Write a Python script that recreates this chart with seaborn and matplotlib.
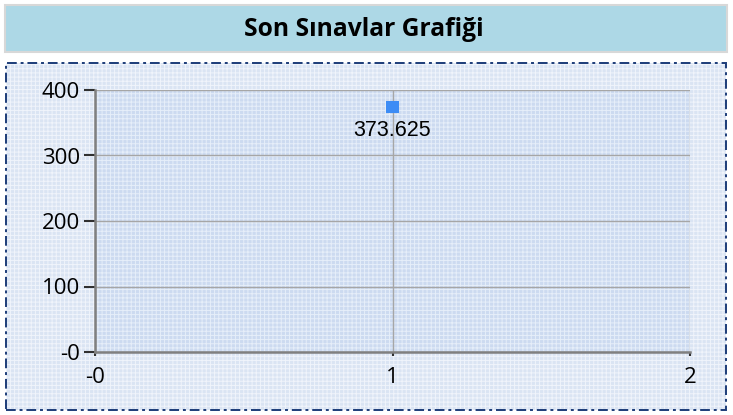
import matplotlib
matplotlib.use("Agg")
import matplotlib.pyplot as plt
from matplotlib.patches import Rectangle
import seaborn as sns
import pandas as pd

# chart data
title = "Son Sınavlar Grafiği"
x_values = [1]
y_values = [373.625]
point_labels = ["373.625"]
x_ticks = [0, 1, 2]
x_tick_labels = ["-0", "1", "2"]
y_ticks = [0, 100, 200, 300, 400]
y_tick_labels = ["-0", "100", "200", "300", "400"]

df = pd.DataFrame({"x": x_values, "y": y_values, "label": point_labels})

sns.set_theme(style="white")
plt.rcParams["font.family"] = ["Open Sans", "DejaVu Sans"]
plt.rcParams["hatch.linewidth"] = 0.7

W, H = 733, 415
fig = plt.figure(figsize=(W / 100, H / 100), dpi=100)
fig.patch.set_facecolor("white")

# title box
fig.patches.append(Rectangle((5 / W, 1 - 52 / H), 722 / W, 47 / H,
                             transform=fig.transFigure, facecolor="#add8e6",
                             edgecolor="#d8d8d8", linewidth=1.5, zorder=-2))
fig.text(364 / W, 1 - 29 / H, title, ha="center", va="center",
         fontsize=17.7, fontweight="bold", color="black")

# chart area background with fine grid pattern
fig.patches.append(Rectangle((6 / W, 1 - 410 / H), 720 / W, 347 / H,
                             transform=fig.transFigure, facecolor="#dae4f3",
                             edgecolor="#f0f4fb", hatch="++++", linewidth=0, zorder=-2))
fig.patches.append(Rectangle((6 / W, 1 - 410 / H), 720 / W, 347 / H,
                             transform=fig.transFigure, facecolor="none",
                             edgecolor="#1c3c78", linewidth=1.4,
                             linestyle=(0, (5, 2, 1.5, 2)), zorder=3))

ax = fig.add_axes([95 / W, 1 - 352 / H, 595 / W, 262 / H])
ax.set_facecolor("none")
ax.add_patch(Rectangle((0, 0), 1, 1, transform=ax.transAxes, facecolor="#ccdaf0",
                       edgecolor="#e6eef9", hatch="++++", linewidth=0, zorder=0))

ax.set_xlim(0, 2)
ax.set_ylim(0, 400)
ax.set_xticks(x_ticks)
ax.set_xticklabels(x_tick_labels)
ax.set_yticks(y_ticks)
ax.set_yticklabels(y_tick_labels)
ax.grid(True, color="#a6a6a6", linewidth=1.0, zorder=1)
ax.set_axisbelow(True)

for side in ["top", "right"]:
    ax.spines[side].set_visible(False)
for side in ["left", "bottom"]:
    ax.spines[side].set_color("#808080")
    ax.spines[side].set_linewidth(1.8)

ax.tick_params(axis="y", which="major", left=True, direction="out", length=8,
               width=1.5, color="#303030", labelsize=16, pad=3, labelcolor="black")
ax.tick_params(axis="x", which="major", bottom=True, direction="out", length=3,
               width=1.5, color="#303030", labelsize=16, pad=8, labelcolor="black")

sns.scatterplot(data=df, x="x", y="y", ax=ax, marker="s", s=80, color="#3d8cf5",
                edgecolor="none", zorder=5, legend=False, clip_on=False)
for _, row in df.iterrows():
    ax.annotate(row["label"], (row["x"], row["y"]), xytext=(0, -9),
                textcoords="offset points", ha="center", va="top",
                fontsize=15.5, color="black",
                family=["Liberation Sans", "DejaVu Sans"], zorder=6)

ax.set_xlabel("")
ax.set_ylabel("")

fig.savefig("out.png", dpi=100)
